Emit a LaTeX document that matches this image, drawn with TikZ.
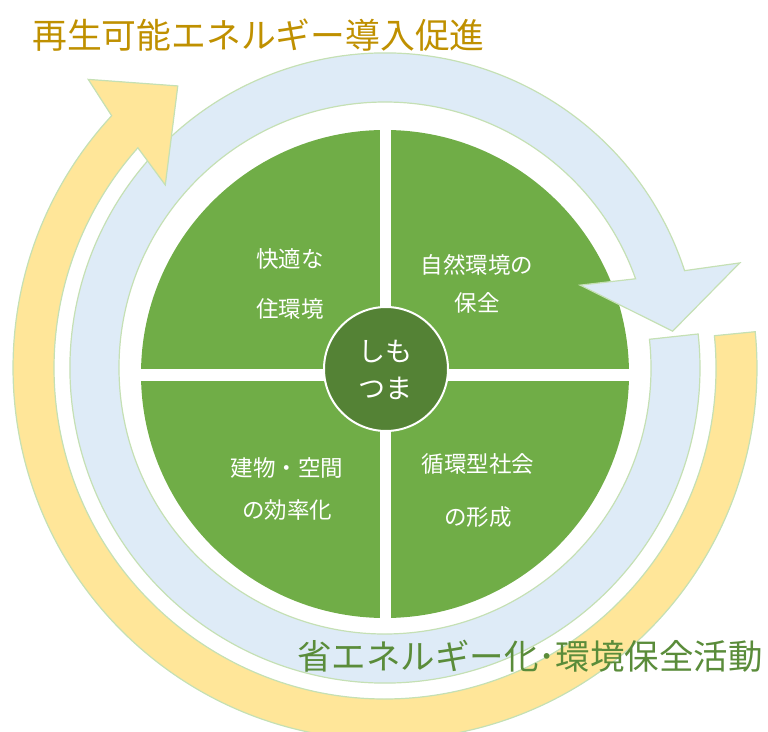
\documentclass[tikz,border=0pt]{standalone}
\usepackage{fontspec}
\setmainfont{Noto Sans CJK JP}
\definecolor{quadgreen}{HTML}{70AD47}
\definecolor{darkgreen}{HTML}{548235}
\definecolor{textgreen}{HTML}{5A8C3A}
\definecolor{titlegold}{HTML}{BF9000}
\definecolor{ringblue}{HTML}{DEEBF7}
\definecolor{ringyellow}{HTML}{FFE699}
\definecolor{ringedge}{HTML}{C5E0B4}
\tikzset{
  bluering/.style={fill=ringblue, draw=ringedge, line width=1.2pt, line join=miter},
  yellowring/.style={fill=ringyellow, draw=ringedge, line width=1.2pt, line join=miter},
  qtext/.style={text=white, inner sep=0pt, font=\fontsize{22.5}{26}\selectfont},
  ctext/.style={text=white, inner sep=0pt, font=\fontsize{27}{30}\selectfont},
  bigtitle/.style={inner sep=0pt, anchor=west}
}
\begin{document}
\begin{tikzpicture}[x=1pt,y=1pt]
\useasboundingbox (0,0) rectangle (768,731);
\clip (0,0) rectangle (768,731);
% green disc with quadrants
\fill[quadgreen] (385,357) circle[radius=244];
\draw[white, line width=11pt] (385,605) -- (385,109);
\draw[white, line width=12pt] (137,355.5) -- (633,355.5);
% rings
\begin{scope}[shift={(385,363)}]
  \path[bluering] (6.2:266) arc[start angle=6.2, end angle=-340.4, radius=266]
     -- (23:212) -- (7.3:290) -- (16.5:370) -- (18:315)
     arc[start angle=-342, end angle=6.2, radius=315] -- cycle;
  \path[yellowring] (5.6:331) arc[start angle=5.6, end angle=-221.7, radius=331]
     -- (140.2:286) -- (126.3:350) -- (135.8:414) -- (137.3:372)
     arc[start angle=-222.7, end angle=5.6, radius=372] -- cycle;
\end{scope}
\node[circle, draw=white, line width=2pt, fill=darkgreen, minimum size=124pt, inner sep=0pt] (core) at (386,362) {};
% texts
\node[ctext] (c1) at (385,379) {しも};
\node[ctext] (c2) at (385,343) {つま};
\node[qtext] (q1a) at (290,472) {快適な};
\node[qtext] (q1b) at (290,422) {住環境};
\node[qtext] (q2a) at (477,466) {自然環境の};
\node[qtext] (q2b) at (477,428) {保全};
\node[qtext] (q3a) at (287,263) {建物・空間};
\node[qtext] (q3b) at (287,221) {の効率化};
\node[qtext] (q4a) at (478,267) {循環型社会};
\node[qtext] (q4b) at (478,214) {の形成};
\node[bigtitle, text=titlegold, font=\fontsize{34.8}{40}\selectfont] (title) at (32,696) {再生可能エネルギー導入促進};
\node[bigtitle, text=textgreen, font=\fontsize{34.5}{40}\selectfont] (bottom) at (297,75) {省エネルギー化･環境保全活動};
\end{tikzpicture}
\end{document}
